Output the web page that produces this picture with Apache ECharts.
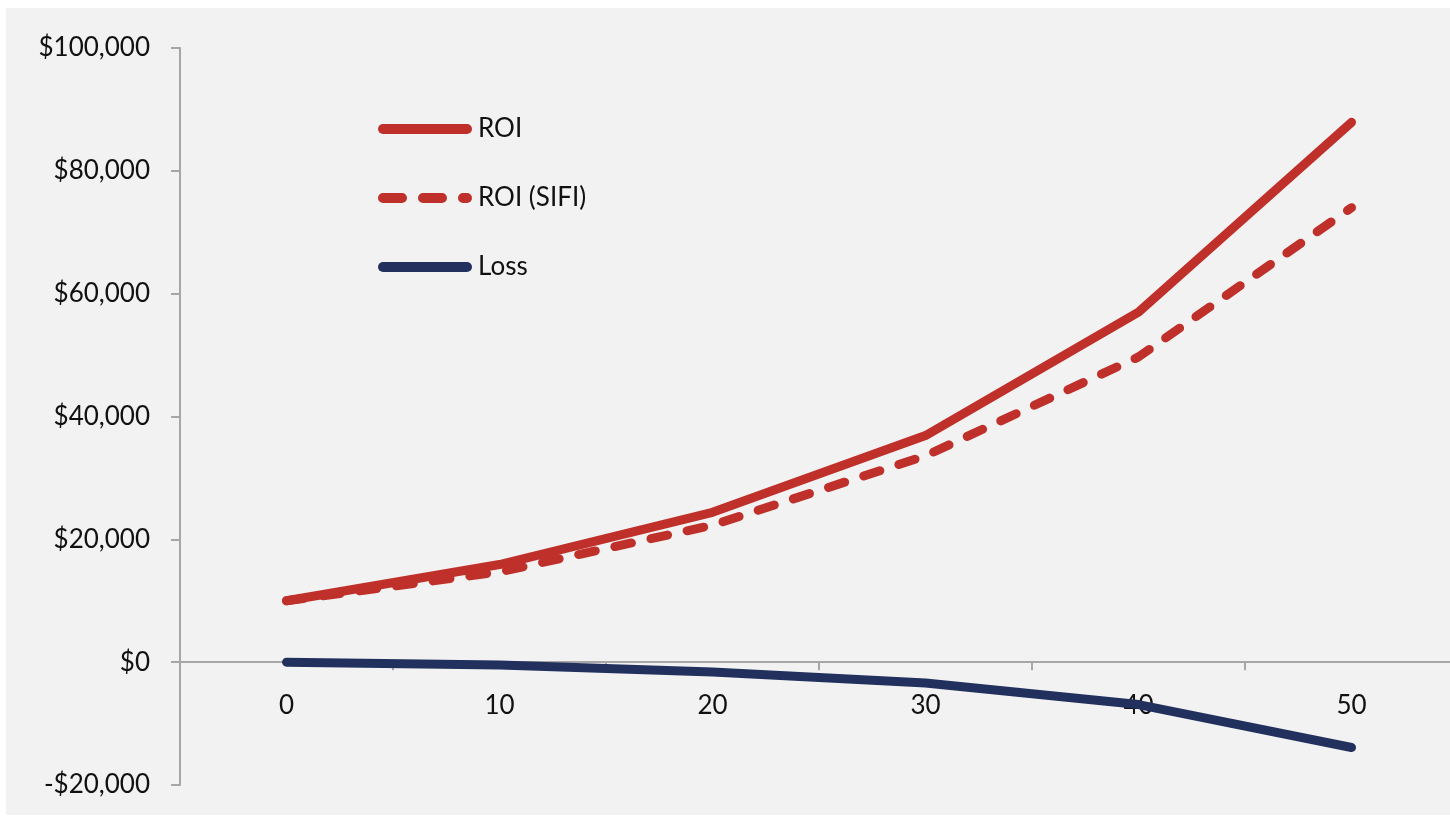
<!DOCTYPE html>
<html>
<head>
<meta charset="utf-8">
<script src="https://cdn.jsdelivr.net/npm/echarts@6/dist/echarts.min.js"></script>
<style>
  html, body { margin: 0; padding: 0; background: #ffffff; overflow: hidden; width: 1450px; height: 819px; }
  #chart { position: absolute; left: 6px; top: 8px; width: 1454px; height: 807px; background: #f2f2f2; }
</style>
</head>
<body>
<div id="chart"></div>
<script>
const categories = ['0', '10', '20', '30', '40', '50'];
const roi = [10000, 15900, 24400, 36900, 57000, 87900];
const roiSifi = [10000, 14700, 22300, 33600, 49700, 74000];
const loss = [0, -450, -1600, -3400, -6900, -13900];
const yTicks = { min: -20000, max: 100000, interval: 20000 };

const red = '#c0302a';
const navy = '#22305e';
const font = 'Lato, "Open Sans", sans-serif';

function money(v) {
  const s = Math.abs(v).toLocaleString('en-US');
  return (v < 0 ? '-$' : '$') + s;
}

const gridTop = 40, gridBottom = 30, chartH = 807;
const gridH = chartH - gridTop - gridBottom;
// place the category axis where value 0 sits on the value scale
const zeroOffset = -gridH * (0 - yTicks.min) / (yTicks.max - yTicks.min);

const chart = echarts.init(document.getElementById('chart'), null, { renderer: 'canvas' });
chart.setOption({
  animation: false,
  backgroundColor: '#f2f2f2',
  grid: { left: 174, top: gridTop, right: 2, bottom: gridBottom, containLabel: false, outerBoundsMode: 'none' },
  legend: {
    orient: 'vertical',
    left: 372,
    top: 108,
    padding: 0,
    itemWidth: 84,
    itemHeight: 14,
    itemGap: 43,
    textStyle: { fontFamily: font, fontSize: 26, color: '#111111', padding: [0, 0, 0, 6] },
    data: [
      { name: 'ROI', itemStyle: { opacity: 0 }, lineStyle: { width: 10, cap: 'round', color: red } },
      { name: 'ROI (SIFI)', itemStyle: { opacity: 0 }, lineStyle: { width: 10, cap: 'round', color: red, type: [19, 21] } },
      { name: 'Loss', itemStyle: { opacity: 0 }, lineStyle: { width: 10, cap: 'round', color: navy } }
    ]
  },
  xAxis: {
    type: 'category',
    data: categories,
    boundaryGap: true,
    position: 'bottom',
    offset: zeroOffset,
    axisLine: { onZero: false, lineStyle: { color: '#a6a6a6', width: 2 } },
    axisTick: { show: true, length: 8, lineStyle: { color: '#a6a6a6', width: 2 } },
    axisLabel: { fontFamily: font, fontSize: 26, color: '#111111', margin: 30 },
    splitLine: { show: false }
  },
  yAxis: {
    type: 'value',
    min: yTicks.min,
    max: yTicks.max,
    interval: yTicks.interval,
    axisLine: { show: true, lineStyle: { color: '#a6a6a6', width: 2 } },
    axisTick: { show: true, length: 9, lineStyle: { color: '#a6a6a6', width: 2 } },
    axisLabel: { fontFamily: font, fontSize: 26, color: '#111111', margin: 30, formatter: money },
    splitLine: { show: false }
  },
  series: [
    {
      name: 'ROI', type: 'line', data: roi, symbol: 'none',
      color: red,
      lineStyle: { color: red, width: 9, cap: 'round', join: 'round' }
    },
    {
      name: 'ROI (SIFI)', type: 'line', data: roiSifi, symbol: 'none',
      color: red,
      lineStyle: { color: red, width: 9, type: [17, 20], cap: 'round', join: 'round' }
    },
    {
      name: 'Loss', type: 'line', data: loss, symbol: 'none',
      color: navy,
      lineStyle: { color: navy, width: 9, cap: 'round', join: 'round' }
    }
  ]
});
</script>
</body>
</html>
